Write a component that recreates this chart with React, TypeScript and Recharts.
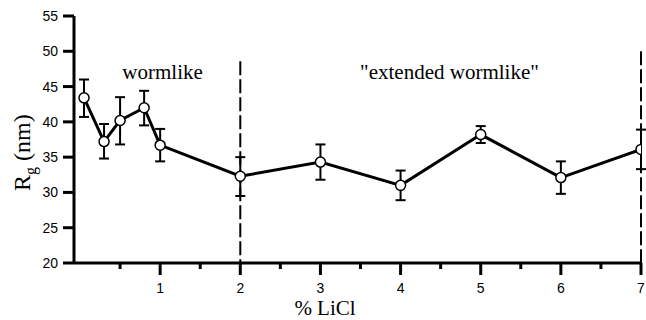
import React from 'react';
import {
  ComposedChart,
  Line,
  XAxis,
  YAxis,
  ErrorBar,
  ReferenceLine,
  ReferenceDot,
} from 'recharts';

// % LiCl concentrations
const licl = [0.05, 0.3, 0.5, 0.8, 1, 2, 3, 4, 5, 6, 7];
// radius of gyration, nm
const rg = [43.4, 37.2, 40.2, 42.0, 36.7, 32.3, 34.3, 31.0, 38.2, 32.1, 36.1];
// error bar ends (below / above the mean)
const errDown = [2.7, 2.4, 3.4, 2.5, 2.3, 2.8, 2.5, 2.1, 1.2, 2.3, 2.8];
const errUp = [2.6, 2.5, 3.3, 2.4, 2.3, 2.7, 2.5, 2.1, 1.2, 2.3, 2.8];

const xTicks = [0.5, 1, 1.5, 2, 2.5, 3, 3.5, 4, 4.5, 5, 5.5, 6, 6.5, 7];
const yTicks = [20, 25, 30, 35, 40, 45, 50, 55];

const data = licl.map((x, i) => ({
  x,
  rg: rg[i],
  err: [errDown[i], errUp[i]],
}));

const serif = '"Liberation Serif", "Times New Roman", serif';
const sans = '"Liberation Sans", Arial, sans-serif';

function XTick(props: any) {
  const { x, y, payload } = props;
  const major = Number.isInteger(payload.value);
  return (
    <g>
      <line x1={x} x2={x} y1={y} y2={y + (major ? 12 : 6)} stroke="#000" strokeWidth={3} />
      {major && (
        <text x={x} y={y + 30} textAnchor="middle" fontSize={14} fontFamily={sans} fill="#000">
          {payload.value}
        </text>
      )}
    </g>
  );
}

function YLabel() {
  return (
    <text transform="translate(30,191) rotate(-90)" fontSize={24} fontFamily={serif} fill="#000">
      <tspan>R</tspan>
      <tspan fontSize={16} dy={6}>g</tspan>
      <tspan dy={-6}>{'\u00a0(nm)'}</tspan>
    </text>
  );
}

export default function App() {
  return (
    <div style={{ position: 'absolute', left: 0, top: 0, background: '#fff' }}>
      <ComposedChart
        width={646}
        height={320}
        data={data}
        margin={{ top: 16, right: 5, bottom: 27, left: 30 }}
      >
        <XAxis
          dataKey="x"
          type="number"
          domain={[-0.075, 7]}
          ticks={xTicks}
          allowDataOverflow
          height={30}
          tickLine={false}
          tickSize={0}
          tickMargin={0}
          tick={<XTick />}
          axisLine={{ stroke: '#000', strokeWidth: 3 }}
          label={{
            content: () => (
              <text x={325} y={315} textAnchor="middle" fontSize={21} fontFamily={serif} fill="#000">
                % LiCl
              </text>
            ),
          }}
        />
        <YAxis
          type="number"
          domain={[20, 55]}
          ticks={yTicks}
          width={44}
          tickSize={11}
          tickMargin={5}
          tick={{ fill: '#000', fontSize: 14, fontFamily: sans }}
          tickLine={{ stroke: '#000', strokeWidth: 3 }}
          axisLine={{ stroke: '#000', strokeWidth: 3 }}
          label={{ content: () => <YLabel /> }}
        />
        <ReferenceLine
          segment={[{ x: 2, y: 48.6 }, { x: 2, y: 20 }]}
          stroke="#000"
          strokeWidth={2}
          strokeDasharray="14 4"
        />
        <ReferenceLine
          segment={[{ x: 7, y: 50 }, { x: 7, y: 20 }]}
          stroke="#000"
          strokeWidth={2}
          strokeDasharray="14 4"
        />
        <ReferenceDot
          x={1.03}
          y={47.1}
          r={0}
          fill="none"
          stroke="none"
          label={{ value: 'wormlike', position: 'center', fill: '#000', fontSize: 21, fontFamily: serif }}
        />
        <ReferenceDot
          x={4.61}
          y={47.1}
          r={0}
          fill="none"
          stroke="none"
          label={{ value: '"extended wormlike"', position: 'center', fill: '#000', fontSize: 21, fontFamily: serif }}
        />
        <Line
          dataKey="rg"
          stroke="#000"
          strokeWidth={3}
          isAnimationActive={false}
          dot={{ r: 5, fill: '#fff', stroke: '#000', strokeWidth: 1.5 }}
        >
          <ErrorBar dataKey="err" width={5} stroke="#000" strokeWidth={2} direction="y" />
        </Line>
      </ComposedChart>
    </div>
  );
}
